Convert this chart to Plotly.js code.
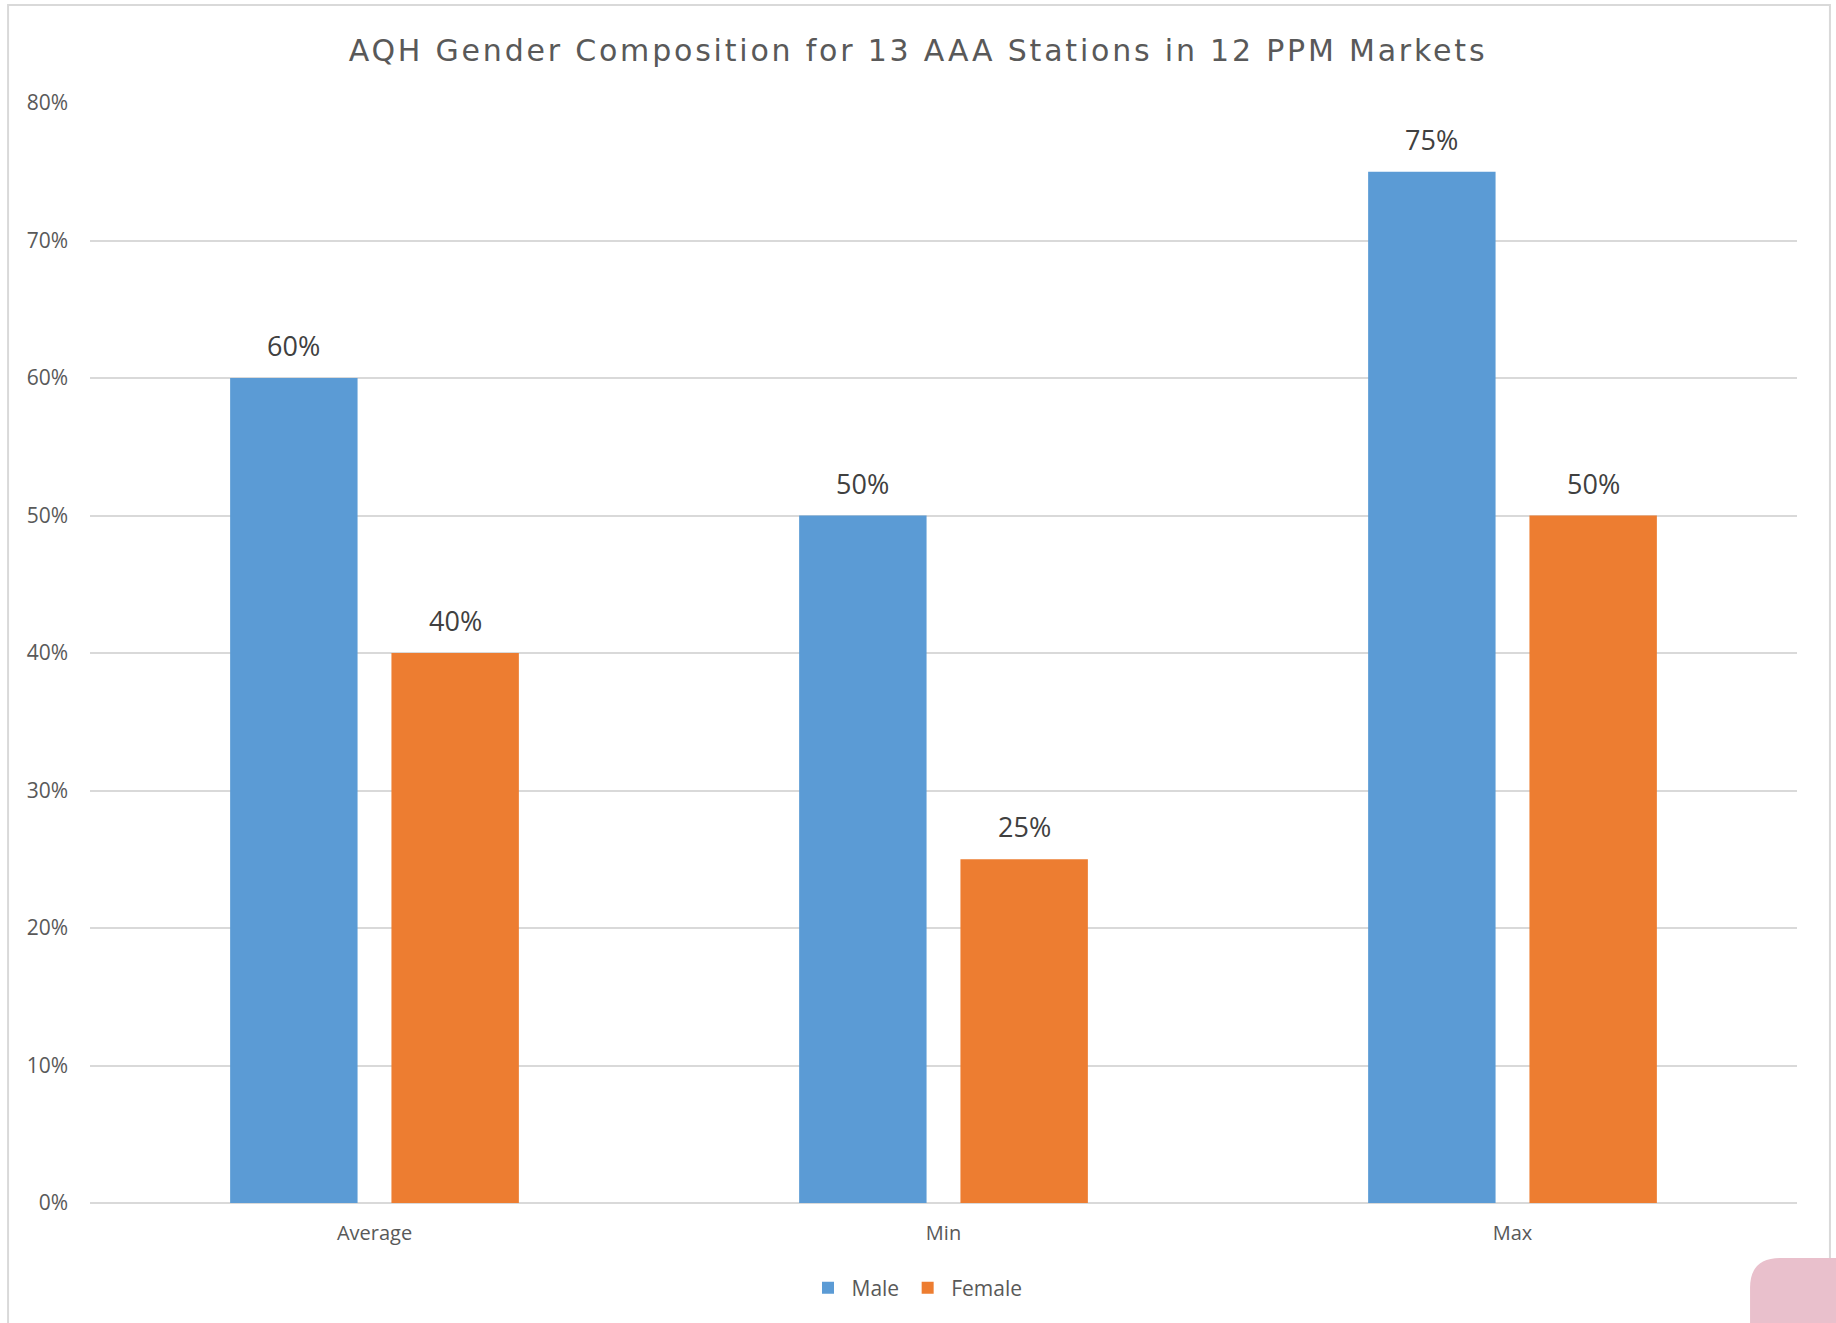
<!DOCTYPE html>
<html>
<head>
<meta charset="utf-8">
<script src="https://cdn.plot.ly/plotly-3.0.1.min.js"></script>
<style>
    body { margin: 0; background: #fff; }
    #chart { width: 1836px; height: 1323px; }
    .gtitle { letter-spacing: 2.8px; }
</style>
</head>
<body>
<div id="chart"></div>
<script>
// Данные графика
const categories = ['Average', 'Min', 'Max'];
const maleValues = [0.60, 0.50, 0.75];
const femaleValues = [0.40, 0.25, 0.50];
const seriesNames = ['Male', 'Female'];
const yTickValues = [0, 0.1, 0.2, 0.3, 0.4, 0.5, 0.6, 0.7, 0.8];

const BAR_GAP = 0.433;
const BAR_GROUP_GAP = 0.21;

function drawChart() {
    const trace1 = {
        x: categories,
        y: maleValues,
        name: seriesNames[0],
        type: 'bar',
        marker: {
            color: '#5b9bd5'
        },
        hoverinfo: 'none'
    };

    const trace2 = {
        x: categories,
        y: femaleValues,
        name: seriesNames[1],
        type: 'bar',
        marker: {
            color: '#ed7d31'
        },
        hoverinfo: 'none'
    };

    // Подписи значений над столбцами
    const slot = (1 - BAR_GAP) / 2;
    const annotations = [];
    [maleValues, femaleValues].forEach((values, s) => {
        values.forEach((v, i) => {
            annotations.push({
                x: i + (s === 0 ? -slot / 2 : slot / 2),
                y: v,
                xref: 'x',
                yref: 'y',
                text: Math.round(v * 100) + '%',
                showarrow: false,
                yanchor: 'bottom',
                yshift: 12,
                font: {
                    family: 'Open Sans',
                    size: 27,
                    color: '#404040'
                }
            });
        });
    });

    const layout = {
        title: {
            text: 'AQH Gender Composition for 13 AAA Stations in 12 PPM Markets',
            font: {
                family: 'DejaVu Sans',
                size: 30,
                color: '#595959'
            },
            x: 0.5,
            xanchor: 'center',
            yref: 'container',
            y: 1 - 50 / 1323,
            yanchor: 'middle'
        },
        xaxis: {
            type: 'category',
            showgrid: false,
            showline: false,
            ticks: '',
            ticklabelstandoff: 16,
            tickfont: {
                family: 'Open Sans',
                size: 20,
                color: '#595959'
            }
        },
        yaxis: {
            range: [0, 0.8],
            tickvals: yTickValues,
            tickformat: '.0%',
            gridcolor: '#d9d9d9',
            gridwidth: 2,
            zeroline: true,
            zerolinecolor: '#d9d9d9',
            zerolinewidth: 2,
            showline: false,
            ticks: '',
            ticklabelstandoff: 21,
            tickfont: {
                family: 'Open Sans',
                size: 21,
                color: '#595959'
            }
        },
        legend: {
            orientation: 'h',
            xref: 'container',
            x: 916 / 1836,
            xanchor: 'center',
            yref: 'container',
            y: 1 - 1288 / 1323,
            yanchor: 'middle',
            itemwidth: 37,
            font: {
                family: 'Open Sans',
                size: 21,
                color: '#595959'
            }
        },
        annotations: annotations,
        shapes: [
            // рамка диаграммы
            {
                type: 'path',
                xref: 'paper',
                yref: 'paper',
                path: 'M -0.0480,-0.2 L -0.0480,1.0891 L 1.0193,1.0891 L 1.0193,-0.2',
                line: { color: '#d9d9d9', width: 2 },
                layer: 'below'
            },
            // розовый уголок внизу справа
            {
                type: 'path',
                xref: 'paper',
                yref: 'paper',
                path: 'M 0.9725,-0.2 L 0.9725,-0.0773 Q 0.9725,-0.05 0.9900,-0.05 L 1.05,-0.05 L 1.05,-0.2 Z',
                fillcolor: '#e9c0cc',
                line: { width: 0 },
                layer: 'above'
            }
        ],
        bargap: BAR_GAP,
        bargroupgap: BAR_GROUP_GAP,
        barmode: 'group',
        margin: {
            l: 90,
            r: 39,
            t: 103,
            b: 120
        },
        paper_bgcolor: '#ffffff',
        plot_bgcolor: '#ffffff',
        width: 1836,
        height: 1323
    };

    const config = {
        displayModeBar: false,
        responsive: false
    };

    Plotly.newPlot('chart', [trace1, trace2], layout, config);
}

drawChart();
</script>
</body>
</html>
